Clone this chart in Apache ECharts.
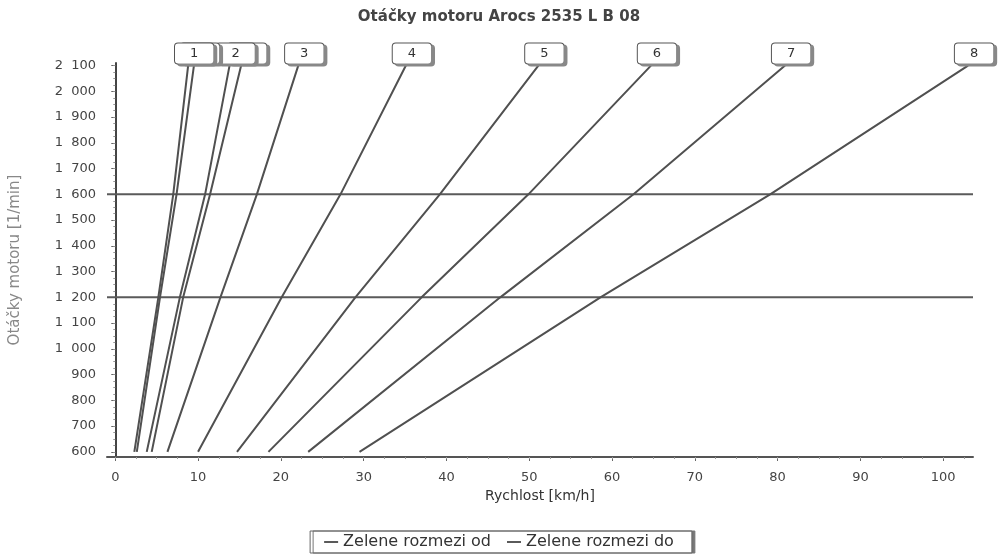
<!DOCTYPE html>
<html>
<head>
<meta charset="utf-8">
<script src="https://cdn.jsdelivr.net/npm/echarts@6/dist/echarts.min.js"></script>
<style>html,body{margin:0;padding:0;background:#fff}#c{width:998px;height:559px}</style>
</head>
<body>
<div id="c"></div>
<script>
// engine speed points (1/min) at which each gear line was read
const rpm = [600, 1200, 1600, 2100];
// vehicle speed (km/h) of each gear line at those engine speeds
const gear1a = [2.3, 5.2, 7.0, 8.8];
const gear1b = [2.6, 5.4, 7.4, 9.5];
const gear2a = [3.8, 7.8, 10.85, 13.8];
const gear2b = [4.4, 8.2, 11.45, 15.2];
const gear3 = [6.3, 12.7, 17.1, 22.1];
const gear4 = [10.0, 20.1, 27.2, 35.1];
const gear5 = [14.7, 29.0, 39.2, 51.1];
const gear6 = [18.5, 37.0, 49.9, 64.7];
const gear7 = [23.3, 46.5, 62.6, 80.9];
const gear8 = [29.5, 58.6, 79.1, 103.0];
const gearLines = [
  ['1', gear1a], ['1', gear1b], ['2', gear2a], ['2', gear2b], ['3', gear3],
  ['4', gear4], ['5', gear5], ['6', gear6], ['7', gear7], ['8', gear8]
];
// green band limits
const greenFrom = 1200;
const greenTo = 1600;
const xTicks = [0, 10, 20, 30, 40, 50, 60, 70, 80, 90, 100];
const yTicks = [600, 700, 800, 900, 1000, 1100, 1200, 1300, 1400, 1500, 1600, 1700, 1800, 1900, 2000, 2100];
const xMin = -1, xMax = 103.6, yMin = 580, yMax = 2110;

const xMinor = [];
for (let v = 0; v <= 102.5; v += 2.5) xMinor.push(v);
const yMinor = [];
for (let v = 600; v <= 2100; v += 25) yMinor.push(v);

const FONT = 'DejaVu Sans';
const fmtY = v => { const s = String(v); return s.length > 3 ? s.slice(0, s.length - 3) + '  ' + s.slice(-3) : s; };

const series = gearLines.map(([name, speeds], gi) => ({
  type: 'line',
  name: 'g' + gi,
  symbol: 'circle',
  symbolSize: 0,
  showSymbol: true,
  silent: true,
  clip: false,
  z: 30 - gi,
  lineStyle: { color: '#505050', width: 2 },
  itemStyle: { color: '#505050' },
  data: speeds.map((s, i) => i === speeds.length - 1 ? {
    value: [s, rpm[i]],
    label: {
      show: true, position: 'top', distance: 2, offset: [6, 0],
      formatter: name, fontSize: 13, color: '#333', fontFamily: FONT,
      backgroundColor: '#fff', borderColor: '#555', borderWidth: 1, borderRadius: 3,
      padding: [4, 15, 3, 15], shadowColor: '#888', shadowOffsetX: 3, shadowOffsetY: 2, shadowBlur: 0
    }
  } : [s, rpm[i]])
}));
series.push({
  type: 'line', name: 'Zelene rozmezi od', symbol: 'none', silent: true,
  lineStyle: { color: '#5a5a5a', width: 2 }, itemStyle: { color: '#5a5a5a' },
  data: [[xMin, greenFrom], [xMax, greenFrom]]
});
series.push({
  type: 'line', name: 'Zelene rozmezi do', symbol: 'none', silent: true,
  lineStyle: { color: '#5a5a5a', width: 2 }, itemStyle: { color: '#5a5a5a' },
  data: [[xMin, greenTo], [xMax, greenTo]]
});

const chart = echarts.init(document.getElementById('c'));
chart.setOption({
  animation: false,
  textStyle: { fontFamily: FONT },
  title: {
    text: 'Otáčky motoru Arocs 2535 L B 08', left: 'center', top: 5,
    textStyle: { fontSize: 15, fontWeight: 'bold', color: '#444', fontFamily: FONT }
  },
  legend: {
    data: ['Zelene rozmezi od', 'Zelene rozmezi do'],
    bottom: 6, left: 'center', icon: 'rect', itemWidth: 14, itemHeight: 2, itemGap: 16,
    borderColor: '#666', borderWidth: 1, padding: [3, 18, 3, 14],
    shadowColor: '#777', shadowOffsetX: 3, shadowBlur: 0,
    backgroundColor: '#fff',
    textStyle: { fontSize: 16, color: '#333', fontFamily: FONT }
  },
  grid: { left: 107, right: 25, top: 63, bottom: 102 },
  xAxis: [{
    type: 'value', min: xMin, max: xMax,
    name: 'Rychlost [km/h]', nameLocation: 'middle', nameGap: 31,
    nameTextStyle: { fontSize: 14, color: '#333', fontFamily: FONT },
    axisLine: { show: true, lineStyle: { color: '#555', width: 2 } },
    axisTick: { show: true, customValues: xTicks, length: 4, lineStyle: { color: '#666' } },
    axisLabel: { customValues: xTicks, fontSize: 13, color: '#444', margin: 14, fontFamily: FONT },
    splitLine: { show: false }
  }, {
    type: 'value', min: xMin, max: xMax, position: 'bottom',
    axisLine: { show: false },
    axisTick: { show: true, customValues: xMinor, length: 2, lineStyle: { color: '#999' } },
    axisLabel: { show: false }, splitLine: { show: false }
  }],
  yAxis: [{
    type: 'value', min: yMin, max: yMax,
    name: 'Otáčky motoru [1/min]', nameLocation: 'middle', nameGap: 84, nameRotate: 90,
    nameTextStyle: { fontSize: 15, color: '#888', fontFamily: FONT },
    axisLine: { show: true, lineStyle: { color: '#444', width: 2 } },
    axisTick: { show: true, customValues: yTicks, length: 4, lineStyle: { color: '#666' } },
    axisLabel: { customValues: yTicks, fontSize: 13, color: '#444', margin: 11, formatter: fmtY, fontFamily: FONT },
    splitLine: { show: false }
  }, {
    type: 'value', min: yMin, max: yMax, position: 'left',
    axisLine: { show: false },
    axisTick: { show: true, customValues: yMinor, length: 2, lineStyle: { color: '#999' } },
    axisLabel: { show: false }, splitLine: { show: false }
  }],
  series: series
});
</script>
</body>
</html>
